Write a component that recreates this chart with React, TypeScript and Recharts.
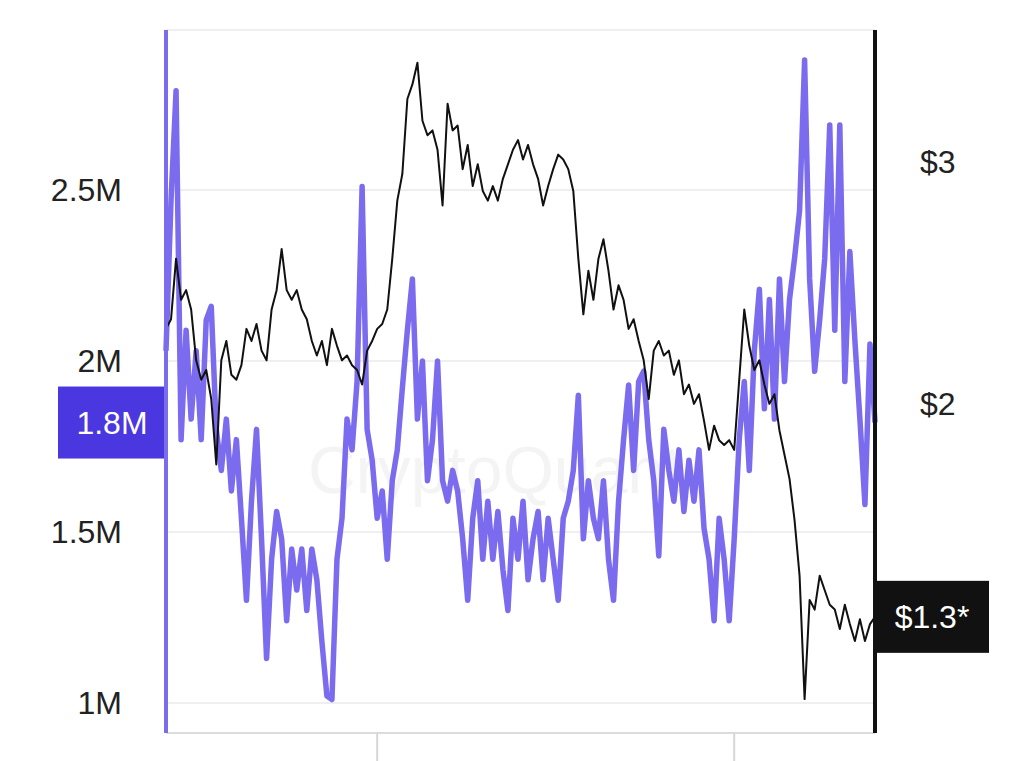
import { LineChart, Line, XAxis, YAxis, CartesianGrid, ReferenceLine } from "recharts";

// trading volume, in millions
const volume = [
  2.03, 2.47, 2.79, 1.77, 2.09, 1.83, 2.03, 1.77, 2.12, 2.16,
  1.80, 1.68, 1.83, 1.62, 1.77, 1.54, 1.30, 1.59, 1.80, 1.48,
  1.13, 1.42, 1.56, 1.48, 1.24, 1.45, 1.33, 1.45, 1.27, 1.45,
  1.36, 1.18, 1.02, 1.01, 1.42, 1.54, 1.83, 1.74, 1.94, 2.51,
  1.80, 1.71, 1.54, 1.62, 1.42, 1.65, 1.74, 1.92, 2.09, 2.24,
  1.83, 2.00, 1.65, 1.77, 2.00, 1.65, 1.59, 1.68, 1.62, 1.48,
  1.30, 1.54, 1.65, 1.42, 1.59, 1.42, 1.56, 1.39, 1.27, 1.54,
  1.42, 1.59, 1.36, 1.48, 1.56, 1.36, 1.54, 1.42, 1.30, 1.54,
  1.59, 1.68, 1.90, 1.48, 1.65, 1.54, 1.48, 1.65, 1.42, 1.30,
  1.59, 1.77, 1.93, 1.68, 1.94, 1.97, 1.77, 1.65, 1.43, 1.80,
  1.68, 1.59, 1.74, 1.56, 1.71, 1.59, 1.74, 1.51, 1.42, 1.24,
  1.54, 1.42, 1.24, 1.48, 1.77, 1.94, 1.68, 2.03, 2.21, 1.86,
  2.18, 1.83, 2.24, 1.94, 2.18, 2.30, 2.44, 2.88, 2.24, 1.97,
  2.12, 2.30, 2.69, 2.09, 2.69, 1.94, 2.32, 2.06, 1.83, 1.58,
  2.05, 1.82,
];

// price, USD
const price = [
  2.31, 2.35, 2.60, 2.43, 2.47, 2.39, 2.18, 2.10, 2.14, 2.02,
  1.75, 2.18, 2.26, 2.12, 2.10, 2.16, 2.31, 2.26, 2.33, 2.22,
  2.18, 2.39, 2.47, 2.64, 2.47, 2.43, 2.47, 2.39, 2.35, 2.26,
  2.20, 2.26, 2.16, 2.31, 2.24, 2.18, 2.20, 2.16, 2.14, 2.08,
  2.22, 2.26, 2.31, 2.33, 2.39, 2.60, 2.84, 2.95, 3.26, 3.32,
  3.41, 3.17, 3.11, 3.13, 3.05, 2.82, 3.24, 3.13, 3.15, 2.97,
  3.07, 2.90, 2.99, 2.88, 2.84, 2.90, 2.84, 2.93, 2.99, 3.05,
  3.09, 3.01, 3.07, 2.99, 2.93, 2.82, 2.90, 2.97, 3.03, 3.01,
  2.97, 2.88, 2.60, 2.37, 2.55, 2.43, 2.60, 2.68, 2.55, 2.39,
  2.49, 2.43, 2.31, 2.35, 2.26, 2.18, 2.02, 2.22, 2.26, 2.20,
  2.22, 2.12, 2.18, 2.04, 2.08, 2.00, 2.04, 1.93, 1.81, 1.91,
  1.85, 1.83, 1.85, 1.81, 2.10, 2.39, 2.24, 2.14, 2.18, 2.08,
  2.00, 2.04, 1.89, 1.79, 1.69, 1.52, 1.29, 0.78, 1.19, 1.15,
  1.29, 1.23, 1.17, 1.15, 1.07, 1.17, 1.09, 1.02, 1.11, 1.02,
  1.09, 1.12,
];

const volumeTicks = [1, 1.5, 2, 2.5];
const priceTicks = [2, 3];
const dayTicks = [42, 113];

const volumeTag = "1.8M";
const priceTag = "$1.3*";

const data = volume.map((v, i) => ({ day: i, volume: v, price: price[i] }));

const FONT = '"Liberation Sans", Arial, Helvetica, sans-serif';
const PURPLE = "#7b6bee";

function Tag({ viewBox, side, text, fill }: any) {
  const { x, y, width } = viewBox;
  const w = side === "left" ? 108 : 114;
  const h = 72;
  const left = side === "left" ? x - w : x + width;
  return (
    <g>
      <rect x={left} y={y - h / 2} width={w} height={h} fill={fill} />
      <text
        x={left + w / 2}
        y={y}
        dy="0.355em"
        textAnchor="middle"
        fill="#fff"
        fontSize={32}
        fontFamily={FONT}
      >
        {text}
      </text>
    </g>
  );
}

export default function App() {
  const last = data[data.length - 1];
  return (
    <div
      style={{
        position: "absolute",
        left: 0,
        top: 0,
        width: 1024,
        height: 761,
        background: "#fff",
        fontFamily: FONT,
        overflow: "hidden",
      }}
    >
      {/* faint watermark behind the plot */}
      <div
        style={{
          position: "absolute",
          left: 308,
          top: 432,
          fontSize: 66,
          color: "#f4f4f4",
          whiteSpace: "nowrap",
        }}
      >
        CryptoQuant
      </div>
      <LineChart
        width={1024}
        height={761}
        data={data}
        margin={{ top: 30, right: 0, bottom: 0, left: 0 }}
      >
        <CartesianGrid
          yAxisId="vol"
          vertical={false}
          stroke="#efefef"
          strokeWidth={2}
        />
        <XAxis
          dataKey="day"
          type="number"
          domain={[0, volume.length - 1]}
          ticks={dayTicks}
          tickFormatter={() => ""}
          height={28}
          tickSize={30}
          axisLine={{ stroke: "#dcdcdc", strokeWidth: 2 }}
          tickLine={{ stroke: "#d6d6d6", strokeWidth: 2 }}
        />
        <YAxis
          yAxisId="vol"
          orientation="left"
          width={166}
          domain={[0.912, 2.968]}
          allowDataOverflow
          ticks={volumeTicks}
          tickFormatter={(v) => `${v}M`}
          tickSize={0}
          tickMargin={44}
          tick={{ fill: "#222", fontSize: 32, fontFamily: FONT }}
          axisLine={{ stroke: PURPLE, strokeWidth: 4 }}
        />
        <YAxis
          yAxisId="price"
          orientation="right"
          width={149}
          domain={[0.64, 3.545]}
          allowDataOverflow
          ticks={priceTicks}
          tickFormatter={(v) => `$${v}`}
          tickSize={0}
          tickMargin={45}
          tick={{ fill: "#222", fontSize: 32, fontFamily: FONT }}
          axisLine={{ stroke: "#111", strokeWidth: 4 }}
        />
        <Line
          yAxisId="vol"
          type="linear"
          dataKey="volume"
          stroke={PURPLE}
          strokeWidth={5.5}
          strokeLinejoin="round"
          dot={false}
          isAnimationActive={false}
        />
        <Line
          yAxisId="price"
          type="linear"
          dataKey="price"
          stroke="#111"
          strokeWidth={2}
          strokeLinejoin="round"
          dot={false}
          isAnimationActive={false}
        />
        <ReferenceLine
          yAxisId="vol"
          y={last.volume}
          stroke="none"
          label={(p: any) => (
            <Tag viewBox={p.viewBox} side="left" text={volumeTag} fill="#4b37e0" />
          )}
        />
        <ReferenceLine
          yAxisId="price"
          y={last.price}
          stroke="none"
          label={(p: any) => (
            <Tag viewBox={p.viewBox} side="right" text={priceTag} fill="#111" />
          )}
        />
      </LineChart>
    </div>
  );
}
